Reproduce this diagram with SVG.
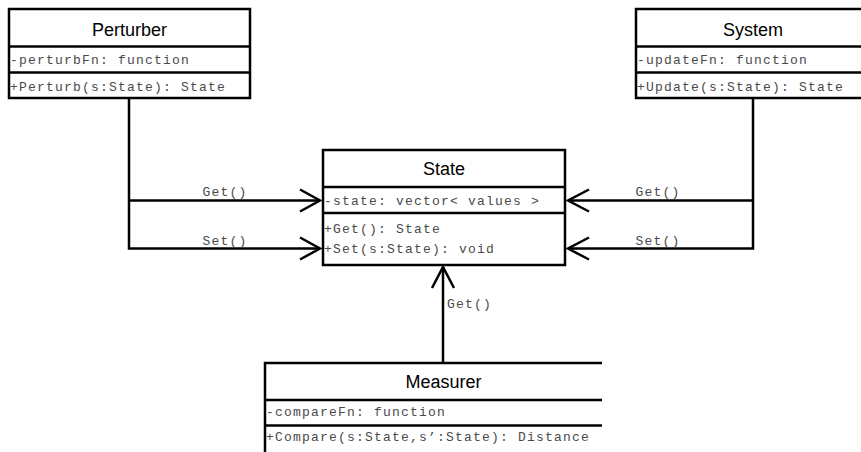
<svg xmlns="http://www.w3.org/2000/svg" width="861" height="452" viewBox="0 0 861 452">
  <style>
    .box { fill: #ffffff; stroke: #000000; stroke-width: 2.5; }
    .sep { stroke: #000000; stroke-width: 2.5; }
    .title { font-family: "Liberation Sans", Arial, sans-serif; font-size: 18px; fill: #000000; text-anchor: middle; }
    .member { font-family: "Liberation Mono", "Courier New", monospace; font-size: 13px; letter-spacing: 1.2px; fill: #4a4a4a; }
    .label { font-family: "Liberation Mono", "Courier New", monospace; font-size: 13px; letter-spacing: 1.2px; fill: #4a4a4a; }
    .wire { fill: none; stroke: #000000; stroke-width: 2.5; }
    .head { fill: none; stroke: #000000; stroke-width: 2.5; }
  </style>
  <rect width="861" height="452" fill="#ffffff"/>

  <g id="connectors">
    <!-- Perturber to State -->
    <polyline class="wire" points="129,98 129,248.5 320,248.5"/>
    <line class="wire" x1="129" y1="200.5" x2="320" y2="200.5"/>
    <polyline class="head" points="300,189.5 320,200.5 300,211.5"/>
    <polyline class="head" points="300,237.5 320,248.5 300,259.5"/>
    <text class="label" x="225" y="196" text-anchor="middle">Get()</text>
    <text class="label" x="225" y="244.5" text-anchor="middle">Set()</text>

    <!-- System to State -->
    <polyline class="wire" points="753,98 753,248.5 568,248.5"/>
    <line class="wire" x1="753" y1="200.5" x2="568" y2="200.5"/>
    <polyline class="head" points="589,189.5 568,200.5 589,211.5"/>
    <polyline class="head" points="589,237.5 568,248.5 589,259.5"/>
    <text class="label" x="658" y="196" text-anchor="middle">Get()</text>
    <text class="label" x="658" y="244.5" text-anchor="middle">Set()</text>

    <!-- Measurer to State -->
    <line class="wire" x1="443" y1="363" x2="443" y2="267"/>
    <polyline class="head" points="432,288 443,267 454,288"/>
    <text class="label" x="447" y="308">Get()</text>
  </g>

  <g id="perturber">
    <rect class="box" x="9" y="9" width="241" height="89"/>
    <line class="sep" x1="9" y1="46.5" x2="250" y2="46.5"/>
    <line class="sep" x1="9" y1="72.5" x2="250" y2="72.5"/>
    <text class="title" x="129.5" y="36">Perturber</text>
    <text class="member" x="10" y="64">-perturbFn: function</text>
    <text class="member" x="10" y="91">+Perturb(s:State): State</text>
  </g>

  <g id="system">
    <rect class="box" x="636" y="9" width="234" height="89"/>
    <line class="sep" x1="636" y1="46.5" x2="870" y2="46.5"/>
    <line class="sep" x1="636" y1="72.5" x2="870" y2="72.5"/>
    <text class="title" x="753" y="36">System</text>
    <text class="member" x="637" y="64">-updateFn: function</text>
    <text class="member" x="637" y="91">+Update(s:State): State</text>
  </g>

  <g id="state">
    <rect class="box" x="323" y="150" width="242" height="115"/>
    <line class="sep" x1="323" y1="187" x2="565" y2="187"/>
    <line class="sep" x1="323" y1="213" x2="565" y2="213"/>
    <text class="title" x="444" y="175">State</text>
    <text class="member" x="324" y="205">-state: vector&lt; values &gt;</text>
    <text class="member" x="324" y="233">+Get(): State</text>
    <text class="member" x="324" y="253">+Set(s:State): void</text>
  </g>

  <g id="measurer">
    <!-- the frame runs on past the right and bottom edges, so only three sides show -->
    <path class="wire" d="M602,363 H265 V458"/>
    <line class="sep" x1="265" y1="400" x2="602" y2="400"/>
    <line class="sep" x1="265" y1="425.5" x2="602" y2="425.5"/>
    <text class="title" x="443.5" y="388">Measurer</text>
    <text class="member" x="266" y="416">-compareFn: function</text>
    <text class="member" x="266" y="441">+Compare(s:State,s’:State): Distance</text>
  </g>
</svg>
